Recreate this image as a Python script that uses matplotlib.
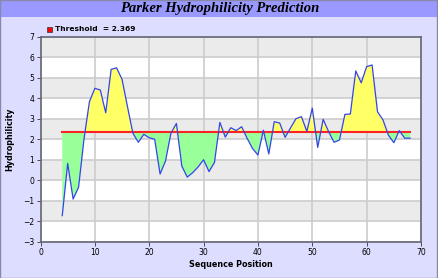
import matplotlib
matplotlib.use('Agg')
import matplotlib.pyplot as plt
from matplotlib.patches import Rectangle
import numpy as np

# Parker hydrophilicity values
positions = list(range(4, 69))
values = [-1.73, 0.82, -0.92, -0.35, 2.0, 3.83, 4.48, 4.40, 3.29, 5.41,
          5.48, 4.92, 3.59, 2.29, 1.85, 2.24, 2.07, 2.0, 0.30, 0.94,
          2.29, 2.77, 0.69, 0.15, 0.37, 0.65, 1.0, 0.42, 0.86, 2.82,
          2.10, 2.56, 2.42, 2.61, 2.05, 1.55, 1.23, 2.44, 1.28, 2.85,
          2.79, 2.09, 2.55, 3.0, 3.10, 2.38, 3.51, 1.60, 2.97, 2.37,
          1.85, 1.96, 3.21, 3.23, 5.33, 4.75, 5.54, 5.62, 3.34, 2.94,
          2.20, 1.83, 2.42, 2.05, 2.05]
threshold = 2.369

x = np.array(positions, dtype=float)
y = np.array(values, dtype=float)

# add the points where the curve crosses the threshold, so the
# shaded areas meet exactly on the line
xs, ys = [x[0]], [y[0]]
for i in range(len(x) - 1):
    d0, d1 = y[i] - threshold, y[i + 1] - threshold
    if d0 * d1 < 0:
        t = d0 / (d0 - d1)
        xs.append(x[i] + t * (x[i + 1] - x[i]))
        ys.append(threshold)
    xs.append(x[i + 1])
    ys.append(y[i + 1])
xs = np.array(xs)
ys = np.array(ys)


def shade(ax, mask, colour):
    # one polygon per run of points on the same side of the threshold
    i = 0
    n = len(xs)
    while i < n:
        if not mask[i]:
            i += 1
            continue
        j = i
        while j + 1 < n and mask[j + 1]:
            j += 1
        if j > i:
            px = list(xs[i:j + 1]) + [xs[j], xs[i]]
            py = list(ys[i:j + 1]) + [threshold, threshold]
            ax.fill(px, py, facecolor=colour, edgecolor='none', zorder=2)
        i = j + 1


fig = plt.figure(figsize=(4.39, 2.78), dpi=100)
fig.patch.set_facecolor('#DDDDFF')

# title bar
fig.patches.append(Rectangle((0, 1 - 17 / 278), 1, 17 / 278, transform=fig.transFigure,
                             facecolor='#9999FF', edgecolor='none', zorder=0))
fig.patches.append(Rectangle((0, 0), 1 - 2 / 439, 1, transform=fig.transFigure,
                             facecolor='none', edgecolor='#8888AA', linewidth=1, zorder=1))
fig.text(0.5, 1 - 8.5 / 278, 'Parker Hydrophilicity Prediction', ha='center', va='center',
         family='Liberation Serif', style='italic', weight='bold', fontsize=10.5)

ax = fig.add_axes([40.5 / 439, 1 - 241.7 / 278, (421 - 40.5) / 439, (241.7 - 36.7) / 278])
ax.set_facecolor('white')

# alternating bands
for lo in range(-3, 7):
    if lo % 2 == 0:
        ax.axhspan(lo, lo + 1, color='#EBEBEB', zorder=0, linewidth=0)

shade(ax, ys >= threshold, '#FFFF66')
shade(ax, ys <= threshold, '#99FF99')

ax.plot([x[0], x[-1]], [threshold, threshold], color='#FF2222', linewidth=1.5, zorder=3)
ax.plot(x, y, color='#3344EE', linewidth=0.9, zorder=4)

ax.set_xlim(0, 70)
ax.set_ylim(-3, 7)
ax.set_xticks(range(0, 71, 10))
ax.set_yticks(range(-3, 8))
ax.grid(True, color='#CCCCCC', linewidth=1.2, zorder=1)
ax.set_axisbelow(True)
ax.tick_params(labelsize=5.5, length=3, width=0.6, pad=1.5, colors='#333333', labelcolor='black')
for s in ax.spines.values():
    s.set_color('#666677')
    s.set_linewidth(1.2)

ax.set_xlabel('Sequence Position', fontsize=5.8, weight='bold', labelpad=2)
ax.set_ylabel('Hydrophilicity', fontsize=5.8, weight='bold', labelpad=6)

# legend
fig.patches.append(Rectangle((47 / 439, 1 - 31.5 / 278), 5 / 439, 5 / 278, transform=fig.transFigure,
                             facecolor='#FF0000', edgecolor='#333333', linewidth=0.5))
fig.text(55 / 439, 1 - 29 / 278, 'Threshold  = %.3f' % threshold, ha='left', va='center',
         fontsize=5.4, weight='bold')

fig.savefig('out.png', dpi=100, facecolor=fig.get_facecolor())
